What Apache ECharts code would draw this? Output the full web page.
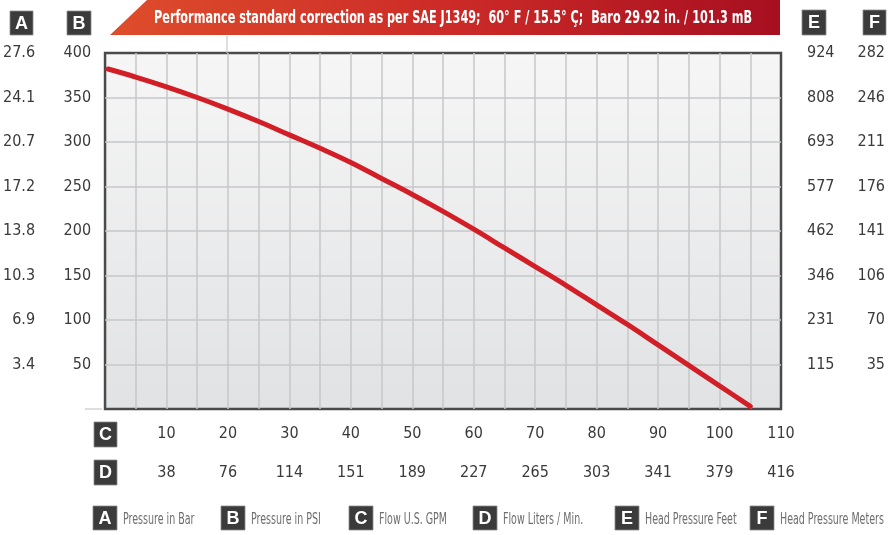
<!DOCTYPE html>
<html>
<head>
<meta charset="utf-8">
<title>Pump performance curve</title>
<script src="https://cdn.jsdelivr.net/npm/echarts@6/dist/echarts.min.js"></script>
<style>
  html, body { margin: 0; padding: 0; background: #fff; }
  #chart { width: 888px; height: 535px; }
</style>
</head>
<body>
<div id="chart"></div>
<script>
// flow (US GPM) vs pressure (PSI)
const flowGpm = [0.5, 5, 10, 15, 20, 25, 30, 35, 40, 45, 50, 55, 60, 65, 70, 75, 80, 85, 90, 95, 100, 105];
const pressurePsi = [382, 373, 362, 350, 337, 323, 308, 293, 277, 259, 241, 222, 202, 181, 160, 139, 117, 95, 72, 49, 26, 3];

// secondary scales, one label per gridline
const barTicks = ['3.4', '6.9', '10.3', '13.8', '17.2', '20.7', '24.1', '27.6'];
const feetTicks = ['115', '231', '346', '462', '577', '693', '808', '924'];
const meterTicks = ['35', '70', '106', '141', '176', '211', '246', '282'];
const literTicks = ['38', '76', '114', '151', '189', '227', '265', '303', '341', '379', '416'];

const legendItems = [
  ['A', 'Pressure in Bar'],
  ['B', 'Pressure in PSI'],
  ['C', 'Flow U.S. GPM'],
  ['D', 'Flow Liters / Min.'],
  ['E', 'Head Pressure Feet'],
  ['F', 'Head Pressure Meters']
];
const legendX = [93, 221, 349, 473, 615, 750];

const narrow = '"DejaVu Sans Condensed", "Liberation Sans Narrow", sans-serif';
const labelColor = '#3a3a3a';
const labelSize = 16;

// dark letter box
function letterBox(x, y, w, h, letter) {
  return [
    { type: 'rect', shape: { x: x, y: y, width: w, height: h },
      style: { fill: '#3b3b3b', stroke: '#8a8a8a', lineWidth: 0.8 } },
    { type: 'text', x: x + w / 2, y: y + h / 2 + 1,
      style: { text: letter, fill: '#fff', font: 'bold 18px "Liberation Sans", sans-serif',
        textAlign: 'center', textVerticalAlign: 'middle' } }
  ];
}

// value -> label from one of the arrays above (hides 0)
function tickFrom(arr, step) {
  return function (v) {
    const i = Math.round(v / step) - 1;
    return i >= 0 && i < arr.length ? arr[i] : '';
  };
}

let graphics = [
  {
    type: 'polygon',
    shape: { points: [[110, 35], [147, 0], [780, 0], [780, 35]] },
    style: {
      fill: new echarts.graphic.LinearGradient(0, 0, 1, 0, [
        { offset: 0, color: '#de4d2b' },
        { offset: 0.5, color: '#cc2b27' },
        { offset: 1, color: '#a70f20' }
      ])
    }
  },
  {
    // squeezed to look like the condensed face of the original
    type: 'text', x: 453, y: 18, scaleX: 0.695,
    style: {
      text: 'Performance standard correction as per SAE J1349;  60° F / 15.5° Ç;  Baro 29.92 in. / 101.3 mB',
      fill: '#fff', font: 'bold 18px ' + narrow, textAlign: 'center', textVerticalAlign: 'middle'
    }
  },
  { type: 'line', shape: { x1: 227, y1: 36, x2: 227, y2: 53 }, style: { stroke: '#c9c9c9', lineWidth: 1.2 } },
  { type: 'line', shape: { x1: 85, y1: 409, x2: 102, y2: 409 }, style: { stroke: '#c9c9c9', lineWidth: 1.2 } }
];
graphics = graphics
  .concat(letterBox(10, 11, 23, 24, 'A'))
  .concat(letterBox(67, 11, 24, 24, 'B'))
  .concat(letterBox(802, 10, 24, 25, 'E'))
  .concat(letterBox(863, 10, 23, 25, 'F'))
  .concat(letterBox(94, 422, 23, 25, 'C'))
  .concat(letterBox(94, 460, 23, 25, 'D'));

legendItems.forEach(function (item, i) {
  graphics = graphics.concat(letterBox(legendX[i], 506, 24, 24, item[0]));
  graphics.push({
    type: 'text', x: legendX[i] + 30, y: 520, scaleX: 0.66,
    style: { text: item[1], fill: '#6e6e6e', font: '16px ' + narrow, textVerticalAlign: 'middle' }
  });
});

const chart = echarts.init(document.getElementById('chart'));

const option = {
  backgroundColor: '#fff',
  animation: false,
  grid: {
    left: 102, right: 106, top: 53, bottom: 126,
    show: true,
    borderColor: '#4a4a4a',
    borderWidth: 2.5,
    backgroundColor: new echarts.graphic.LinearGradient(0, 0, 0, 1, [
      { offset: 0, color: '#f6f6f6' },
      { offset: 1, color: '#e1e2e4' }
    ])
  },
  xAxis: [
    {
      type: 'value', min: 0, max: 110, interval: 5,
      axisLine: { show: false }, axisTick: { show: false },
      splitLine: { show: true, showMinLine: false, showMaxLine: false, lineStyle: { color: '#c6c7c9', width: 1.5 } },
      axisLabel: {
        margin: 17, color: labelColor, fontFamily: narrow, fontSize: labelSize,
        formatter: function (v) { return v > 0 && v % 10 === 0 ? String(v) : ''; }
      }
    },
    {
      type: 'value', min: 0, max: 110, interval: 10, position: 'bottom', offset: 39,
      axisLine: { show: false }, axisTick: { show: false }, splitLine: { show: false },
      axisLabel: { margin: 17, color: labelColor, fontFamily: narrow, fontSize: labelSize, formatter: tickFrom(literTicks, 10) }
    }
  ],
  yAxis: [
    {
      type: 'value', min: 0, max: 400, interval: 50,
      axisLine: { show: false }, axisTick: { show: false },
      splitLine: { show: true, showMinLine: false, showMaxLine: false, lineStyle: { color: '#c6c7c9', width: 1.5 } },
      axisLabel: {
        margin: 14, color: labelColor, fontFamily: narrow, fontSize: labelSize, padding: [4, 0, 0, 0],
        formatter: function (v) { return v > 0 ? String(v) : ''; }
      }
    },
    {
      type: 'value', min: 0, max: 400, interval: 50, position: 'left', offset: 56,
      axisLine: { show: false }, axisTick: { show: false }, splitLine: { show: false },
      axisLabel: { margin: 14, color: labelColor, fontFamily: narrow, fontSize: labelSize, padding: [4, 0, 0, 0], formatter: tickFrom(barTicks, 50) }
    },
    {
      type: 'value', min: 0, max: 400, interval: 50, position: 'right',
      axisLine: { show: false }, axisTick: { show: false }, splitLine: { show: false },
      axisLabel: { margin: 26, color: labelColor, fontFamily: narrow, fontSize: labelSize, padding: [4, 0, 0, 0], formatter: tickFrom(feetTicks, 50) }
    },
    {
      type: 'value', min: 0, max: 400, interval: 50, position: 'right', offset: 80,
      axisLine: { show: false }, axisTick: { show: false }, splitLine: { show: false },
      axisLabel: { margin: 24, align: 'right', color: labelColor, fontFamily: narrow, fontSize: labelSize, padding: [4, 0, 0, 0], formatter: tickFrom(meterTicks, 50) }
    }
  ],
  series: [
    {
      type: 'line',
      smooth: 0.4,
      symbol: 'none',
      lineStyle: { color: '#d21f27', width: 5, cap: 'round' },
      data: flowGpm.map(function (x, i) { return [x, pressurePsi[i]]; })
    }
  ],
  graphic: graphics
};

chart.setOption(option);
</script>
</body>
</html>
